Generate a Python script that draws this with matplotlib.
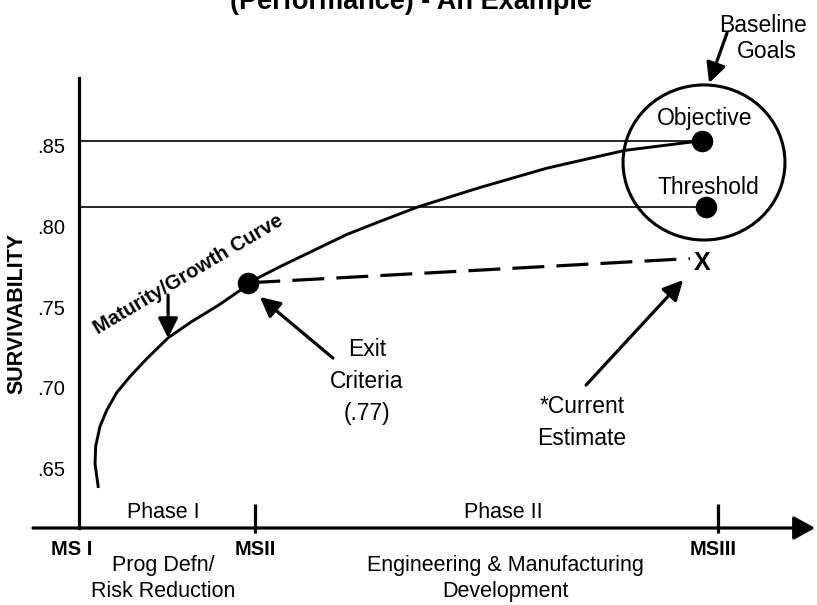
import matplotlib
matplotlib.use('Agg')
import matplotlib.pyplot as plt
from matplotlib.patches import Ellipse

plt.rcParams['font.family'] = ['Liberation Sans', 'DejaVu Sans']

# programme time (MS I = 0, MSII = 1) and survivability
milestones = ['MS I', 'MSII', 'MSIII']
milestone_t = [0.0, 1.0, 3.631]
curve_t = [0.110, 0.091, 0.095, 0.119, 0.157, 0.214, 0.290, 0.385, 0.507, 0.640,
           0.791, 0.924, 0.962, 1.142, 1.523, 1.710, 1.926, 2.278, 2.659, 3.102,
           3.540]
curve_s = [0.638, 0.653, 0.664, 0.676, 0.686, 0.697, 0.707, 0.718, 0.731, 0.741,
           0.751, 0.761, 0.765, 0.775, 0.795, 0.803, 0.812, 0.824, 0.836, 0.847,
           0.853]
goal_t = 3.54
objective = 0.853
threshold = 0.812
exit_t = 0.962
exit_criteria = 0.765
current_estimate = 0.780
ytick_vals = [0.65, 0.70, 0.75, 0.80, 0.85]
ytick_labels = ['.65', '.70', '.75', '.80', '.85']

fig = plt.figure(figsize=(8.17, 6.05), dpi=100)
ax = fig.add_axes([33/817, 77/605, 784/817, 450/605])
ax.set_xlim(-0.2614, 4.193)
ax.set_ylim(0.6132, 0.8918)

for s in ['top', 'right', 'bottom']:
    ax.spines[s].set_visible(False)
ax.spines['left'].set_position(('data', 0))
ax.spines['left'].set_linewidth(2.3)
ax.set_xticks([])
ax.set_yticks(ytick_vals, ytick_labels)
ax.tick_params(axis='y', length=0, pad=10, labelsize=14.5)

# x axis with arrow
ax.annotate('', xy=(4.182, 0.6132), xytext=(-0.2614, 0.6132),
            arrowprops=dict(arrowstyle='-|>,head_length=0.65,head_width=0.36',
                            lw=2.3, color='black', mutation_scale=20,
                            shrinkA=0, shrinkB=0),
            annotation_clip=False)
ax.vlines(milestone_t[1:], 0.6101, 0.6280, color='black', lw=2.3, clip_on=False)

# goal lines
ax.hlines([objective, threshold], 0, goal_t, color='black', lw=1.2)

# maturity / growth curve
ax.plot(curve_t, curve_s, color='black', lw=2.1, solid_capstyle='butt',
        solid_joinstyle='round')

# current estimate dashed projection
ax.plot([exit_t, goal_t - 0.07], [exit_criteria, current_estimate], color='black',
        lw=2.3, dashes=(10, 3.8))

ax.plot([exit_t, goal_t, goal_t + 0.02], [exit_criteria, objective, threshold], 'o',
        color='black', ms=14.5)
ax.text(goal_t, current_estimate - 0.003, 'X', fontsize=18, fontweight='bold',
        ha='center', va='center')

ax.add_patch(Ellipse((3.551, 0.8395), 0.920, 0.0960, fill=False, ec='black',
                     lw=2.2, clip_on=False))

arrow = dict(arrowstyle='-|>,head_length=0.6,head_width=0.3', lw=2.3,
             color='black', mutation_scale=20, shrinkA=0, shrinkB=0)

ax.text(3.557, 0.8670, 'Objective', fontsize=16.5, ha='center', va='center')
ax.text(3.574, 0.8243, 'Threshold', fontsize=16.5, ha='center', va='center')
ax.text(3.886, 0.9246, 'Baseline', fontsize=16.5, ha='center', va='center')
ax.text(3.909, 0.9079, 'Goals', fontsize=16.5, ha='center', va='center')
ax.annotate('', xy=(3.580, 0.8887), xytext=(3.682, 0.9197), arrowprops=arrow,
            annotation_clip=False)

ax.text(0.619, 0.7704, 'Maturity/Growth Curve', fontsize=14.5, fontweight='bold',
        rotation=30.7, ha='center', va='center', rotation_mode='anchor')
ax.annotate('', xy=(0.506, 0.7308), xytext=(0.506, 0.7574), arrowprops=arrow)

ax.text(1.636, 0.7036, 'Exit\nCriteria\n(.77)', fontsize=16.5, ha='center',
        va='center', multialignment='center', linespacing=1.5)
ax.annotate('', xy=(1.028, 0.7562), xytext=(1.443, 0.7184), arrowprops=arrow)

ax.text(2.858, 0.6785, '*Current\nEstimate', fontsize=16.5, ha='center',
        va='center', multialignment='center', linespacing=1.5)
ax.annotate('', xy=(3.432, 0.7667), xytext=(2.881, 0.7017), arrowprops=arrow)

# phases and milestones
ax.text(0.477, 0.6231, 'Phase I', fontsize=15.5, ha='center', va='center')
ax.text(2.409, 0.6231, 'Phase II', fontsize=15.5, ha='center', va='center')
ax.text(0.477, 0.5819, 'Prog Defn/\nRisk Reduction', fontsize=15.5, ha='center',
        va='center', multialignment='center', linespacing=1.3)
ax.text(2.420, 0.5819, 'Engineering & Manufacturing\nDevelopment', fontsize=15.5,
        ha='center', va='center', multialignment='center', linespacing=1.3)
label_t = [milestone_t[0] - 0.040, milestone_t[1], milestone_t[2] - 0.028]
for name, t in zip(milestones, label_t):
    ax.text(t, 0.6, name, fontsize=14.5, fontweight='bold', ha='center', va='center')

fig.text(17/817, 1 - 313/605, 'SURVIVABILITY', fontsize=15.5, fontweight='bold',
         rotation=90, ha='center', va='center')
fig.text(411/817, 1 - 9/605, '(Performance) - An Example', fontsize=19.5,
         fontweight='bold', ha='center', va='baseline')

fig.savefig('out.png', dpi=100)
